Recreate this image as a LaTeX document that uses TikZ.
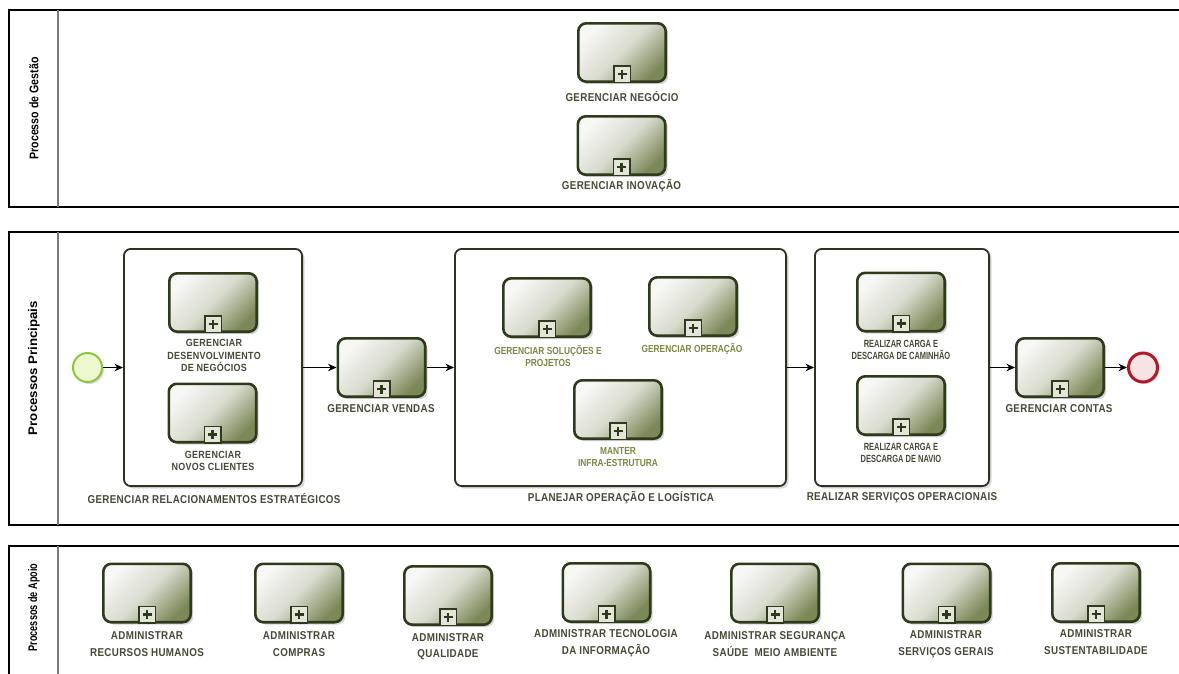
\documentclass[tikz,border=0pt]{standalone}
\usepackage{fontspec}
\setmainfont{Liberation Sans}
\newfontfamily\lblfont[FakeStretch=0.86,LetterSpace=3]{Liberation Sans Bold}
\newfontfamily\midfont[FakeStretch=0.82]{Liberation Sans Bold}
\newfontfamily\cndfont[FakeStretch=0.72]{Liberation Sans Bold}
\newfontfamily\hdrfont{Liberation Sans Bold}
\usetikzlibrary{arrows.meta,shadows}

\definecolor{taskline}{HTML}{2E3A1C}
\definecolor{taskhi}{HTML}{F7F7F5}
\definecolor{taskmid}{HTML}{D8DBCE}
\definecolor{tasklo}{HTML}{7D8858}
\definecolor{markfill}{HTML}{E2E5D8}
\definecolor{subline}{HTML}{2C3322}
\definecolor{lbltext}{HTML}{474938}
\definecolor{olivetext}{HTML}{7B8745}
\definecolor{divider}{HTML}{7A7A7A}
\definecolor{startfill}{HTML}{EEF8CF}
\definecolor{startline}{HTML}{8CC63F}
\definecolor{endfill}{HTML}{F7E3E3}
\definecolor{endline}{HTML}{B0182C}

\newcommand\bpmntask[3]{%
  \node[bpmntask] (#1) at (#2,#3) {};
  \node[marker, anchor=south] (#1-m) at (#1.south) {};
}

\begin{document}
\begin{tikzpicture}[x=1pt,y=-1pt,
  bpmntask/.style={draw=taskline, line width=2.6pt, rounded corners=8pt,
    minimum width=87.4pt, minimum height=58.4pt, inner sep=0pt,
    top color=taskhi, bottom color=tasklo, middle color=taskmid, shading angle=45,
    drop shadow={shadow xshift=2.5pt, shadow yshift=-2.5pt, opacity=0.16, fill=black}},
  marker/.style={draw=taskline, line width=1.5pt, fill=markfill,
    minimum size=16.5pt, inner sep=0pt,
    path picture={\draw[taskline, line width=2.8pt]
      (path picture bounding box.center) +(-4.5pt,0pt) -- +(4.5pt,0pt)
      (path picture bounding box.center) +(0pt,-4.5pt) -- +(0pt,4.5pt);}},
  subproc/.style={draw=subline, line width=1.8pt, rounded corners=7pt, fill=white,
    inner sep=0pt,
    drop shadow={shadow xshift=2.5pt, shadow yshift=-2.5pt, opacity=0.14, fill=black}},
  lbl/.style={font=\lblfont\fontsize{11.4}{12.5}\selectfont, text=lbltext,
    align=center, inner sep=0pt},
  lblb/.style={lbl, font=\lblfont\fontsize{11.4}{16.5}\selectfont},
  lbls/.style={lbl, font=\lblfont\fontsize{10.4}{12.5}\selectfont},
  lblm/.style={lbl, font=\midfont\fontsize{10.2}{12}\selectfont, text=olivetext},
  lblc/.style={lbl, font=\cndfont\fontsize{10.4}{12.8}\selectfont},
  header/.style={font=\hdrfont\fontsize{12.5}{14}\selectfont, rotate=90,
    inner sep=0pt, text=black},
  pool/.style={draw=black, line width=1.3pt, fill=white},
  lane/.style={draw=divider, line width=2pt},
  flow/.style={-{Stealth[length=8.5pt,width=7.5pt]}, line width=1pt, draw=black},
  startev/.style={circle, draw=startline, line width=2pt, fill=startfill,
    minimum size=29pt, inner sep=0pt,
    drop shadow={shadow xshift=2pt, shadow yshift=-2pt, opacity=0.15, fill=black}},
  endev/.style={circle, draw=endline, line width=3pt, fill=endfill,
    minimum size=29pt, inner sep=0pt,
    drop shadow={shadow xshift=2pt, shadow yshift=-2pt, opacity=0.15, fill=black}}
]
\clip (0,0) rectangle (1179,673);
\fill[white] (0,0) rectangle (1179,673);

% pools with their header columns
\draw[pool] (9,10) rectangle (1190,207);
\draw[lane] (58,10) -- (58,207);
\node[header] (h1) at (34,108.5) {\scalebox{0.85}[1]{Processo de Gestão}};

\draw[pool] (9,232) rectangle (1190,525);
\draw[lane] (58,232) -- (58,525);
\node[header] (h2) at (34,368) {\scalebox{1.06}[1]{Processos Principais}};

\draw[pool] (9,546) rectangle (1190,700);
\draw[lane] (58,546) -- (58,700);
\node[header] (h3) at (34,607.5) {\scalebox{0.73}[1]{Processos de Apoio}};

% management processes
\bpmntask{neg}{622}{52.5}
\node[lbl] (neg-l) at (622,96) {GERENCIAR NEGÓCIO};
\bpmntask{inov}{621.5}{145.5}
\node[lbl] (inov-l) at (621.5,186) {GERENCIAR INOVAÇÃO};

% main processes: expanded sub-processes
\node[subproc, minimum width=178.2pt, minimum height=237.2pt] (sp1) at (213,367.5) {};
\node[lbl] (sp1-l) at (214,498) {GERENCIAR RELACIONAMENTOS ESTRATÉGICOS};
\node[subproc, minimum width=331.2pt, minimum height=237.2pt] (sp2) at (620.5,367.5) {};
\node[lbl] (sp2-l) at (621,498) {PLANEJAR OPERAÇÃO E LOGÍSTICA};
\node[subproc, minimum width=174.2pt, minimum height=237.2pt] (sp3) at (902,367.5) {};
\node[lbl] (sp3-l) at (902,498) {REALIZAR SERVIÇOS OPERACIONAIS};

% tasks inside the first sub-process
\bpmntask{dev}{213}{302.5}
\node[lbls] (dev-l) at (214,355.5) {GERENCIAR\\DESENVOLVIMENTO\\DE NEGÓCIOS};
\bpmntask{cli}{212.5}{413}
\node[lbls] (cli-l) at (213,461) {GERENCIAR\\NOVOS CLIENTES};

% tasks inside the second sub-process
\bpmntask{sol}{547}{307.5}
\node[lblm] (sol-l) at (548,356) {GERENCIAR SOLUÇÕES E\\PROJETOS};
\bpmntask{oper}{693}{306.5}
\node[lblm] (oper-l) at (692,349) {GERENCIAR OPERAÇÃO};
\bpmntask{infra}{618}{409.5}
\node[lblm] (infra-l) at (618,457) {MANTER\\INFRA-ESTRUTURA};

% tasks inside the third sub-process
\bpmntask{cam}{901}{302}
\node[lblc] (cam-l) at (901,350) {REALIZAR CARGA E\\DESCARGA DE CAMINHÃO};
\bpmntask{navio}{901}{405.5}
\node[lblc] (navio-l) at (901,453) {REALIZAR CARGA E\\DESCARGA DE NAVIO};

% tasks on the main flow
\bpmntask{vendas}{381.5}{367.5}
\node[lbl] (vendas-l) at (381,409) {GERENCIAR VENDAS};
\bpmntask{contas}{1060}{367.5}
\node[lbl] (contas-l) at (1059,409) {GERENCIAR CONTAS};

% events
\node[startev] (start) at (87.5,367.5) {};
\node[endev] (end) at (1143,367.5) {};

% sequence flow
\draw[flow] (start) -- (sp1);
\draw[flow] (sp1) -- (vendas);
\draw[flow] (vendas) -- (sp2);
\draw[flow] (sp2) -- (sp3);
\draw[flow] (sp3) -- (contas);
\draw[flow] (contas) -- (end);

% support processes
\bpmntask{rh}{147}{593}
\node[lblb] (rh-l) at (147,644) {ADMINISTRAR\\RECURSOS HUMANOS};
\bpmntask{compras}{299}{593}
\node[lblb] (compras-l) at (299,644) {ADMINISTRAR\\COMPRAS};
\bpmntask{qual}{448}{595.5}
\node[lblb] (qual-l) at (448,646.5) {ADMINISTRAR\\QUALIDADE};
\bpmntask{ti}{606.5}{592.5}
\node[lblb] (ti-l) at (606,643) {ADMINISTRAR TECNOLOGIA\\DA INFORMAÇÃO};
\bpmntask{seg}{775}{593}
\node[lblb] (seg-l) at (775,644) {ADMINISTRAR SEGURANÇA\\SAÚDE\ \ MEIO AMBIENTE};
\bpmntask{serv}{946.5}{593}
\node[lblb] (serv-l) at (946,644) {ADMINISTRAR\\SERVIÇOS GERAIS};
\bpmntask{sust}{1096}{592.5}
\node[lblb] (sust-l) at (1096,642) {ADMINISTRAR\\SUSTENTABILIDADE};
\end{tikzpicture}
\end{document}
